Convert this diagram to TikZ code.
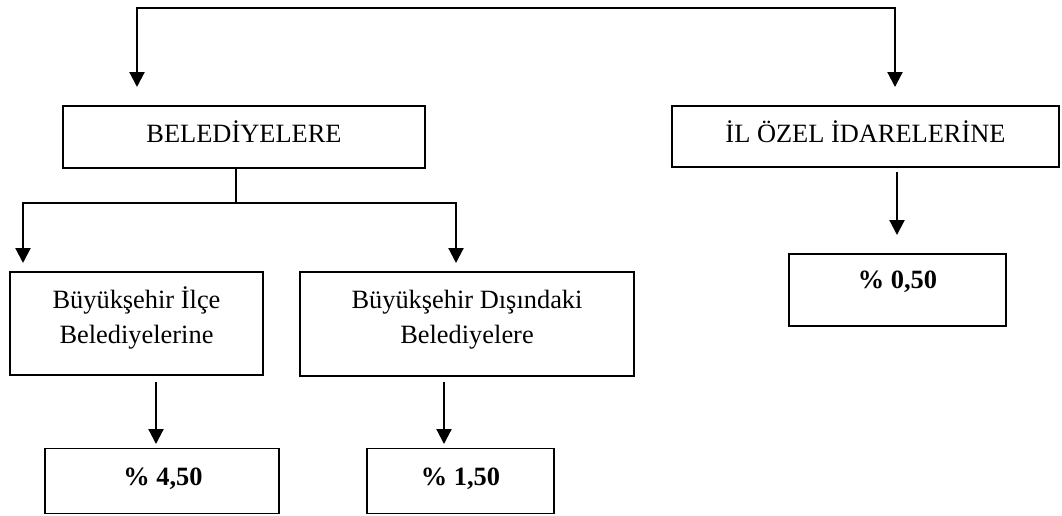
\documentclass[tikz,border=0pt]{standalone}
\usepackage{fontspec}
\setmainfont{Liberation Serif}
\usetikzlibrary{arrows.meta}
\begin{document}
\begin{tikzpicture}[x=0.75pt,y=-0.75pt,
  box/.style={draw, line width=1.4pt, rectangle, inner sep=0pt},
  lbl/.style={anchor=base, inner sep=0pt, font=\fontsize{19.8pt}{26.25pt}\selectfont},
  pct/.style={anchor=base, inner sep=0pt, font=\fontsize{19.8pt}{26.25pt}\selectfont\bfseries},
  conn/.style={line width=1.6pt},
  arr/.style={conn, -{Triangle[length=11.25pt,width=11.25pt]}},
  barr/.style={conn, {Triangle[length=11.25pt,width=11.25pt]}-{Triangle[length=11.25pt,width=11.25pt]}}
]
\useasboundingbox (0,0) rectangle (1062,515);
% boxes
\node[box, minimum width=271.5pt, minimum height=46.5pt] (bel) at (244,137) {};
\node[box, minimum width=290.25pt, minimum height=45.75pt] (ilz) at (865.5,136.5) {};
\node[box, minimum width=189.75pt, minimum height=77.25pt] (b1) at (136.5,323.5) {};
\node[box, minimum width=250.5pt, minimum height=78pt] (b2) at (467,324) {};
\node[box, minimum width=175.5pt, minimum height=48.75pt] (p1) at (162,481) {};
\node[box, minimum width=140.25pt, minimum height=48.75pt] (p2) at (460.5,481) {};
\node[box, minimum width=162.75pt, minimum height=54pt] (p3) at (897.5,290) {};
% texts
\node[lbl] (belt) at (244,142) {BELEDİYELERE};
\node[lbl] (ilzt) at (865.5,142) {İL ÖZEL İDARELERİNE};
\node[lbl] (b1t) at (136.5,308) {\begin{tabular}[t]{@{}c@{}}Büyükşehir İlçe\\Belediyelerine\end{tabular}};
\node[lbl] (b2t) at (467,308) {\begin{tabular}[t]{@{}c@{}}Büyükşehir Dışındaki\\Belediyelere\end{tabular}};
\node[pct] (p1t) at (163,485) {\% 4,50};
\node[pct] (p2t) at (460.5,485) {\% 1,50};
\node[pct] (p3t) at (897.5,288) {\% 0,50};
% connectors
\coordinate (tl) at (137,8);
\coordinate (tr) at (895,8);
\coordinate (a1) at (137,87);
\coordinate (a2) at (895,87);
\draw[barr] (a1) -- (tl) -- (tr) -- (a2);
\coordinate (sj) at (236,203);
\draw[conn] (sj |- bel.south) -- (sj);
\coordinate (hl) at (23,203);
\coordinate (hr) at (456,203);
\coordinate (a3) at (23,263);
\coordinate (a4) at (456,263);
\draw[barr] (a3) -- (hl) -- (hr) -- (a4);
\coordinate (d1s) at (156,382);
\coordinate (d1e) at (156,444);
\draw[arr] (d1s) -- (d1e);
\coordinate (d2s) at (444,382);
\coordinate (d2e) at (444,444);
\draw[arr] (d2s) -- (d2e);
\coordinate (d3s) at (897,172);
\coordinate (d3e) at (897,235);
\draw[arr] (d3s) -- (d3e);
\end{tikzpicture}
\end{document}
